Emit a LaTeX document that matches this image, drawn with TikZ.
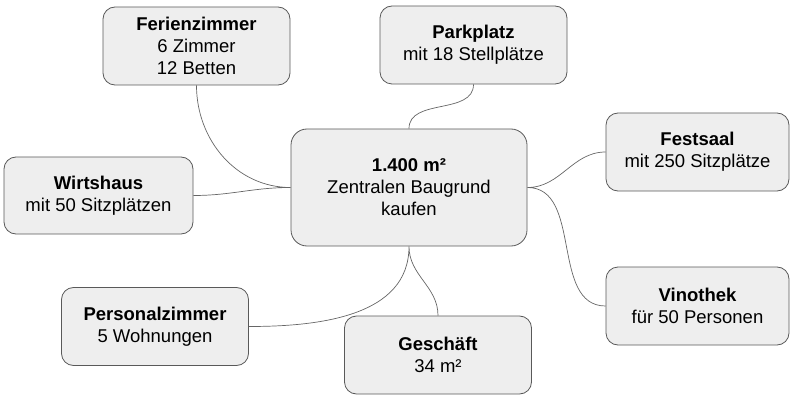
\documentclass[tikz,border=0pt]{standalone}
\usepackage{fontspec}
\setmainfont{Liberation Sans}
\usepackage{xcolor}
\usetikzlibrary{positioning}
\definecolor{boxfill}{HTML}{EEEEEE}
\definecolor{boxline}{HTML}{595959}
\definecolor{linkgray}{HTML}{666666}

\begin{document}
\begin{tikzpicture}[x=1pt, y=-1pt,
    box/.style={draw=boxline, fill=boxfill, line width=0.8pt, rounded corners=12pt,
        minimum width=187pt, minimum height=78pt, inner sep=0pt, align=center,
        font=\fontsize{18.5}{22}\selectfont},
    link/.style={draw=linkgray, line width=0.7pt}]
                        \useasboundingbox (0,0) rectangle (798,401);
                        \node[box, minimum width=236pt, minimum height=117pt, rounded corners=16pt] (m) at (409, 187.5) {\textbf{1.400 m²}\\Zentralen Baugrund\\kaufen};
                        \node[box] (fz) at (196.5, 46) {\textbf{Ferienzimmer}\\6 Zimmer\\12 Betten};
                        \node[box] (pp) at (473.5, 45) {\textbf{Parkplatz}\\mit 18 Stellplätze};
                        \node[box, minimum width=189pt, minimum height=77pt] (wh) at (98.5, 195.5) {\textbf{Wirtshaus}\\mit 50 Sitzplätzen};
                        \node[box, minimum width=183pt] (fs) at (697.5, 152) {\textbf{Festsaal}\\mit 250 Sitzplätze};
                        \node[box, minimum width=183pt] (vt) at (697.5, 306) {\textbf{Vinothek}\\für 50 Personen};
                        \node[box] (pz) at (155, 326.5) {\textbf{Personalzimmer}\\5 Wohnungen};
                        \node[box] (gs) at (438, 355) {\textbf{Geschäft}\\34 m²};

                        \draw[link]
                        (fz.south) to[out=-90, in=180] (m.west)
                        (wh.east) to[out=0, in=180] (m.west)
                        (pp.south) to[out=-90, in=90] (m.north)
                        (m.east) to[out=0, in=180] (fs.west)
                        (m.east) to[out=0, in=180] (vt.west)
                        (m.south) to[out=-90, in=0] (pz.east)
                        (m.south) to[out=-90, in=90] (gs.north);
                    \end{tikzpicture}
\end{document}
